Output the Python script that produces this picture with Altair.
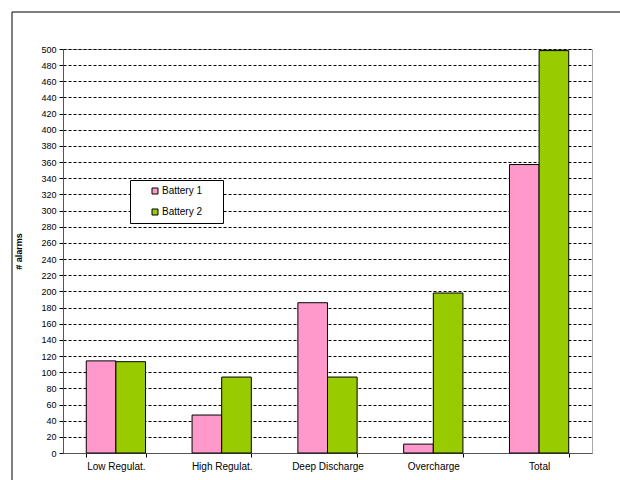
import altair as alt
import pandas as pd

categories = ["Low Regulat.", "High Regulat.", "Deep Discharge", "Overcharge", "Total"]
battery1 = [114, 47, 186, 11, 357]
battery2 = [113, 94, 94, 198, 498]
series = ["Battery 1", "Battery 2"]
colors = ["#FF99CC", "#99CC00"]

rows = []
for c, a, b in zip(categories, battery1, battery2):
    rows.append({"category": c, "series": series[0], "value": a})
    rows.append({"category": c, "series": series[1], "value": b})
df = pd.DataFrame(rows)

FONT = "Liberation Sans"

bars = alt.Chart(df).mark_bar(stroke="black", strokeWidth=1).encode(
    x=alt.X("category:N", sort=categories, title=None,
            scale=alt.Scale(paddingInner=0.44, paddingOuter=0.22),
            axis=alt.Axis(labelAngle=0, tickBand="extent", labelFont=FONT, labelFontSize=10,
                          labelColor="black", domainColor="#555555", tickColor="black",
                          tickSize=4, labelPadding=4, grid=False)),
    xOffset=alt.XOffset("series:N", sort=series),
    y=alt.Y("value:Q", title="# alarms",
            scale=alt.Scale(domain=[0, 500], nice=False),
            axis=alt.Axis(values=list(range(0, 501, 20)), labelFont=FONT, labelFontSize=9,
                          labelColor="black", titleFont=FONT, titleFontSize=9,
                          titleFontWeight="bold", titleColor="black", titlePadding=17,
                          domainColor="#555555", tickColor="black", tickSize=4,
                          grid=True, gridColor="black", gridDash=[3, 2], gridWidth=1,
                          labelPadding=3)),
    color=alt.Color("series:N", sort=series,
                    scale=alt.Scale(domain=series, range=colors),
                    legend=alt.Legend(title=None, orient="none", legendX=67, legendY=131,
                                      fillColor="white", strokeColor="black",
                                      padding=6, symbolType="square", symbolSize=36,
                                      symbolStrokeColor="black", symbolStrokeWidth=1,
                                      labelFont=FONT, labelFontSize=10, labelColor="black",
                                      rowPadding=11, symbolOffset=14, labelOffset=2,
                                      labelLimit=150,
                                      labelExpr="datum.label + '\u2800\u2800'")),
)

frame = alt.Chart(pd.DataFrame({"k": [0]})).mark_rect(
    fill=None, stroke="black", strokeWidth=1
).encode(
    x=alt.value(-51), x2=alt.value(600), y=alt.value(-37), y2=alt.value(440)
)

chart = alt.layer(frame, bars).properties(
    width=529, height=404,
    padding={"left": 63, "top": 49, "right": 28, "bottom": 27},
    autosize=alt.AutoSizeParams(type="none"),
    background="white",
).configure_view(stroke="#AAAAAA", strokeWidth=1)

chart.save("out.html", embed_options={"renderer": "svg", "actions": False})
